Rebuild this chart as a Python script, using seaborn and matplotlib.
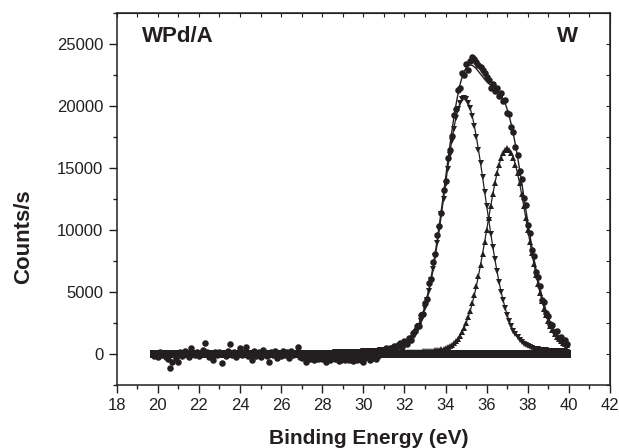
import numpy as np
import matplotlib
matplotlib.use("Agg")
import matplotlib.pyplot as plt
from matplotlib.ticker import MultipleLocator
import seaborn as sns

# ---- data (binding energy step 0.1 eV) ----
energy_raw = np.round(np.arange(198, 400) / 10, 1)      # 19.8 ... 39.9
energy_fit = np.round(np.arange(280, 400) / 10, 1)      # 28.0 ... 39.9
energy_p2 = np.round(np.arange(320, 400) / 10, 1)       # 32.0 ... 39.9

counts_raw = [
    -120, 60, -200, 150, -80, 40, -260, -400, -1150, -650, 120, -300,   # 19.8-20.9
    -620, 180, -150, 250, 90, -200, 460, 120, -90, 200,                 # 21
    -180, 100, 300, 860, 150, -220, 80, -480, 200, -100,                # 22
    160, -750, 90, -150, 250, 810, -60, 180, -250, 120,                 # 23
    460, -100, 200, 540, -150, 80, -480, 220, -120, 150,                # 24
    -200, 300, 60, -150, -620, 140, -90, 250, -300, 100,                # 25
    -180, 220, -60, 150, -350, 280, -100, 120, 590, -250,               # 26
    -320, -150, -620, -280, -400, -180, -450, -250, -380, -200,         # 27
    -420, -300, -620, -350, -480, -260, -400, -300, -550, -480,         # 28
    -350, -450, -280, -500, -380, -600, -320, -450, -280, -520,         # 29
    -620, -350, -250, -450, -300, -200, -430, -150, 50, 120,            # 30
    250, 480, 300, 520, 380, 610, 420, 700, 880, 560,                   # 31
    1050, 820, 1290, 1150, 1700, 1880, 2230, 2300, 3150, 3260,          # 32
    4100, 4450, 5700, 6050, 7400, 8050, 9600, 10300, 11400, 13250,      # 33
    14000, 15800, 16500, 17600, 19300, 19800, 21300, 21500, 22700, 22500,  # 34
    23400, 22900, 23700, 24000, 23800, 23600, 23300, 23200, 22900, 22700,  # 35
    22400, 22100, 21500, 21800, 21200, 21500, 20800, 21100, 20400, 20500,  # 36
    19500, 19400, 18300, 17900, 16700, 16100, 14800, 14100, 12600, 12000,  # 37
    10400, 9800, 8400, 7900, 6600, 6200, 5500, 4400, 4200, 3300,        # 38
    3100, 2400, 2350, 1750, 1900, 1300, 1350, 1050, 1150, 800,          # 39
]

peak1 = [
    110, 112, 115, 118, 121, 124, 128, 132, 136, 140,                   # 28
    145, 150, 155, 160, 166, 172, 178, 185, 192, 200,                   # 29
    208, 217, 226, 236, 247, 258, 270, 283, 297, 312,                   # 30
    330, 350, 372, 397, 425, 458, 495, 540, 590, 650,                   # 31
    720, 810, 920, 1070, 1260, 1520, 1900, 2250, 2660, 3120,            # 32
    3710, 4370, 5120, 5960, 6880, 7890, 8970, 10110, 11300, 12510,      # 33
    13740, 14950, 16110, 17200, 18190, 19050, 19750, 20270, 20590, 20700,  # 34
    20600, 20300, 19830, 19200, 18410, 17500, 16490, 15420, 14290, 13120,  # 35
    11960, 10820, 9710, 8650, 7640, 6690, 5830, 5040, 4340, 3710,       # 36
    3150, 2670, 2250, 1900, 1600, 1340, 1130, 960, 820, 700,            # 37
    610, 540, 485, 440, 405, 375, 350, 330, 312, 296,                   # 38
    282, 270, 259, 249, 240, 232, 224, 217, 211, 205,                   # 39
]

peak2 = [
    150, 155, 160, 166, 172, 178, 185, 193, 201, 210,                   # 32
    220, 232, 245, 260, 278, 298, 322, 350, 385, 425,                   # 33
    475, 540, 620, 725, 855, 1014, 1218, 1464, 1755, 2102,              # 34
    2505, 2971, 3504, 4105, 4777, 5520, 6326, 7191, 8107, 9060,         # 35
    10035, 11019, 11987, 12920, 13796, 14588, 15277, 15840, 16258, 16514,  # 36
    16600, 16514, 16258, 15840, 15277, 14588, 13796, 12920, 11987, 11019,  # 37
    10035, 9080, 8150, 7260, 6420, 5640, 4920, 4260, 3670, 3140,        # 38
    2680, 2280, 1940, 1650, 1410, 1210, 1040, 900, 790, 700,            # 39
]

envelope = [
    110, 112, 115, 118, 121, 124, 128, 132, 136, 140,                   # 28
    145, 150, 155, 160, 166, 172, 178, 185, 192, 200,                   # 29
    208, 217, 226, 236, 247, 258, 270, 283, 297, 312,                   # 30
    330, 350, 372, 397, 425, 458, 495, 540, 590, 650,                   # 31
    870, 965, 1080, 1236, 1432, 1698, 2085, 2443, 2861, 3330,           # 32
    3930, 4602, 5365, 6220, 7158, 8188, 9292, 10460, 11685, 12935,      # 33
    14215, 15490, 16730, 17925, 19045, 20064, 20968, 21734, 22345, 22802,  # 34
    23105, 23271, 23334, 23305, 23187, 23020, 22816, 22611, 22397, 22180,  # 35
    21995, 21839, 21697, 21570, 21436, 21278, 21107, 20880, 20598, 20224,  # 36
    19750, 19184, 18508, 17740, 16877, 15928, 14926, 13880, 12807, 11719,  # 37
    10645, 9620, 8635, 7700, 6825, 6015, 5270, 4590, 3982, 3436,        # 38
    2962, 2550, 2199, 1899, 1650, 1442, 1264, 1117, 1001, 905,          # 39
]

baseline = [0] * len(energy_raw)

ink = "#231f20"

sns.set_style("ticks")
plt.rcParams["font.family"] = ["Liberation Sans", "DejaVu Sans"]

fig, ax = plt.subplots(figsize=(6.19, 4.48), dpi=100)
fig.subplots_adjust(left=0.1885, right=0.9855, top=0.970, bottom=0.1406)

# baseline band (dense squares) and raw counts (circles)
sns.scatterplot(x=energy_raw, y=baseline, marker="s", s=28, color=ink, linewidth=0, ax=ax)
sns.scatterplot(x=energy_raw, y=counts_raw, marker="o", s=22, color=ink, linewidth=0, ax=ax)

# fitted envelope and the two components
sns.lineplot(x=energy_fit, y=envelope, color=ink, linewidth=1.0, ax=ax)
sns.lineplot(x=energy_fit, y=peak1, color=ink, linewidth=0.9, marker="v",
             markersize=4.3, markeredgewidth=0, ax=ax)
sns.lineplot(x=energy_p2, y=peak2, color=ink, linewidth=0.9, marker="^",
             markersize=4.3, markeredgewidth=0, ax=ax)

ax.set_xlim(18, 42)
ax.set_ylim(-2500, 27500)
ax.xaxis.set_major_locator(MultipleLocator(2))
ax.xaxis.set_minor_locator(MultipleLocator(1))
ax.yaxis.set_major_locator(MultipleLocator(5000))
ax.yaxis.set_minor_locator(MultipleLocator(2500))
ax.tick_params(which="major", direction="out", length=5.5, width=1, labelsize=12,
               colors=ink, pad=4)
ax.tick_params(which="minor", direction="out", length=3, width=1, colors=ink)
for sp in ax.spines.values():
    sp.set_linewidth(1.1)
    sp.set_color(ink)

# small inward ticks on the top and right frame
secx = ax.secondary_xaxis("top")
secx.xaxis.set_major_locator(MultipleLocator(1))
secx.tick_params(direction="in", length=3, width=0.8, labeltop=False, colors=ink)
secy = ax.secondary_yaxis("right")
secy.yaxis.set_major_locator(MultipleLocator(2500))
secy.tick_params(direction="in", length=3, width=0.8, labelright=False, colors=ink)

ax.set_xlabel("Binding Energy (eV)", fontsize=15, fontweight="bold", color=ink)
ax.set_ylabel("Counts/s", fontsize=16, fontweight="bold", color=ink)
ax.xaxis.set_label_coords(0.51, -0.118)
ax.yaxis.set_label_coords(-0.168, 0.40)

ax.text(19.25, 25600, "WPd/A", fontsize=16, fontweight="bold", color=ink,
        ha="left", va="center")
ax.text(39.4, 25600, "W", fontsize=16, fontweight="bold", color=ink,
        ha="left", va="center")

plt.savefig("out.png", dpi=100)
plt.close()
